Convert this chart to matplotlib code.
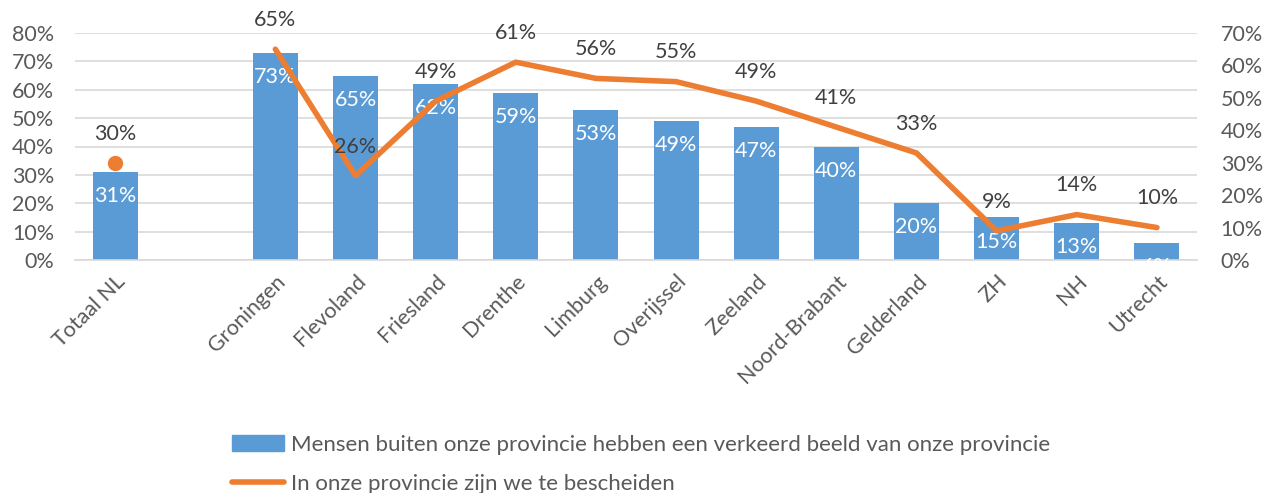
import numpy as np
from matplotlib import pyplot as plt
from matplotlib.lines import Line2D
from matplotlib.patches import Patch

plt.rcParams['font.family'] = ['Lato', 'DejaVu Sans']

# data
categories = ['Totaal NL', '', 'Groningen', 'Flevoland', 'Friesland', 'Drenthe', 'Limburg',
              'Overijssel', 'Zeeland', 'Noord-Brabant', 'Gelderland', 'ZH', 'NH', 'Utrecht']
beeld = [31, None, 73, 65, 62, 59, 53, 49, 47, 40, 20, 15, 13, 6]
bescheiden = [30, None, 65, 26, 49, 61, 56, 55, 49, 41, 33, 9, 14, 10]

blue = '#5B9BD5'
orange = '#ED7D31'
tick_col = '#595959'
lab_col = '#404040'
fs = 15.5

fig = plt.figure(figsize=(12.63, 4.93), dpi=100)
ax = fig.add_axes([75 / 1263, 1 - 260 / 493, (1197 - 75) / 1263, (260 - 33) / 493])
ax2 = ax.twinx()

x = np.arange(len(categories))
bar_x = [i for i, v in zip(x, beeld) if v is not None]
bar_v = [v for v in beeld if v is not None]
ax.bar(bar_x, bar_v, width=0.56, color=blue, zorder=2)
for xi, v in zip(bar_x, bar_v):
    ax.text(xi, v - 8.5, f'{v}%', ha='center', va='center', color='white', fontsize=fs, zorder=3)

ax.set_ylim(0, 80)
ax.set_yticks(range(0, 81, 10))
ax.set_yticklabels([f'{t}%' for t in range(0, 81, 10)])
ax.set_xlim(-0.5, len(categories) - 0.5)
ax.set_xticks(x)
ax.set_xticklabels(categories, rotation=45, ha='right', rotation_mode='anchor')
ax.grid(axis='y', color='#d9d9d9', lw=1.2, zorder=0)
ax.set_axisbelow(True)
for s in ['top', 'left', 'right']:
    ax.spines[s].set_visible(False)
ax.spines['bottom'].set_color('#d9d9d9')
ax.spines['bottom'].set_linewidth(1.2)
ax.tick_params(axis='both', length=0, labelsize=fs, colors=tick_col)
ax.tick_params(axis='y', pad=15)
ax.tick_params(axis='x', pad=8)

# line series (Totaal NL only as a marker)
lx = [i for i, v in zip(x, bescheiden) if v is not None]
lv = [v for v in bescheiden if v is not None]
ax2.plot(lx[1:], lv[1:], color=orange, lw=4, solid_capstyle='round', solid_joinstyle='round', zorder=4)
ax2.plot([lx[0]], [lv[0]], 'o', color=orange, ms=10, zorder=4)
for xi, v in zip(lx, lv):
    ax2.text(xi, v + 9, f'{v}%', ha='center', va='center', color=lab_col, fontsize=fs, zorder=5)

ax2.set_ylim(0, 70)
ax2.set_yticks(range(0, 71, 10))
ax2.set_yticklabels([f'{t}%' for t in range(0, 71, 10)])
for s in ['top', 'left', 'right', 'bottom']:
    ax2.spines[s].set_visible(False)
ax2.tick_params(axis='y', length=0, labelsize=fs, colors=tick_col, pad=17)

handles = [Patch(color=blue), Line2D([], [], color=orange, lw=4, solid_capstyle='round')]
labels = ['Mensen buiten onze provincie hebben een verkeerd beeld van onze provincie',
          'In onze provincie zijn we te bescheiden']
fig.legend(handles, labels, loc='upper left', bbox_to_anchor=(223 / 1263, 1 - 426 / 493),
           frameon=False, fontsize=16, labelcolor=tick_col, labelspacing=0.85,
           handlelength=2.35, handletextpad=0.3, borderaxespad=0)

fig.savefig('out.png', dpi=100)
